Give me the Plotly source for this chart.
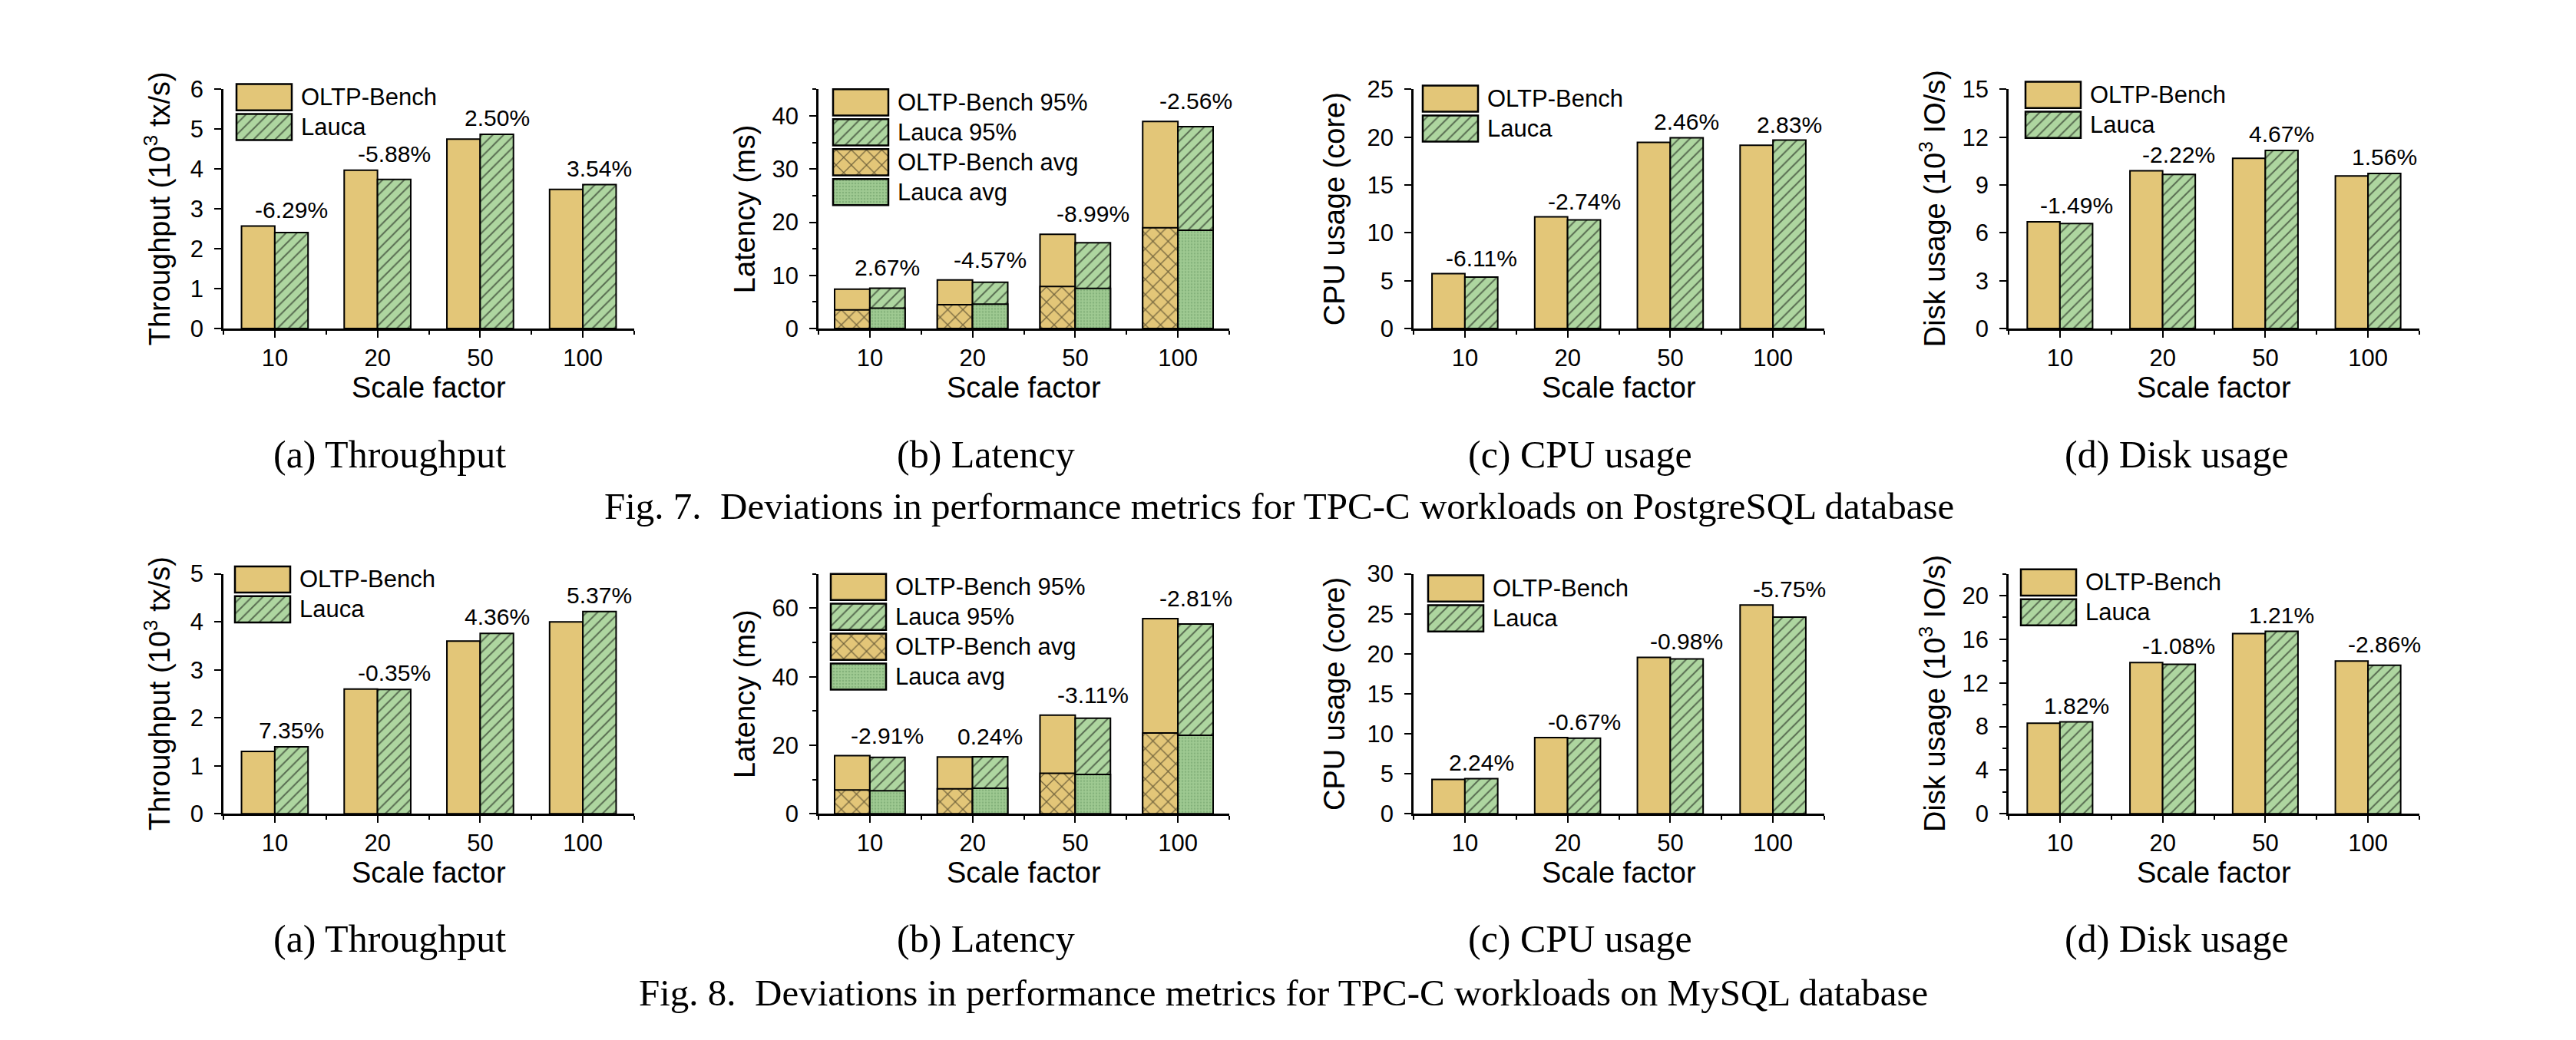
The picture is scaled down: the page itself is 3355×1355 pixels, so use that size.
import copy
import plotly.graph_objects as go

W, H = 3355, 1355

# ---------------- data ----------------
categories = ["10", "20", "50", "100"]

# Fig. 7  PostgreSQL
pg_tp_oltp = [2.57, 3.97, 4.75, 3.49]
pg_tp_lauca = [2.41, 3.74, 4.87, 3.61]
pg_tp_dev = ["-6.29%", "-5.88%", "2.50%", "3.54%"]

pg_lat95_oltp = [7.40, 9.13, 17.75, 38.97]
pg_lat95_lauca = [7.60, 8.71, 16.15, 37.97]
pg_latavg_oltp = [3.50, 4.50, 7.92, 18.97]
pg_latavg_lauca = [3.84, 4.60, 7.54, 18.50]
pg_lat_dev = ["2.67%", "-4.57%", "-8.99%", "-2.56%"]

pg_cpu_oltp = [5.74, 11.67, 19.46, 19.15]
pg_cpu_lauca = [5.39, 11.35, 19.94, 19.69]
pg_cpu_dev = ["-6.11%", "-2.74%", "2.46%", "2.83%"]

pg_disk_oltp = [6.69, 9.89, 10.67, 9.57]
pg_disk_lauca = [6.59, 9.67, 11.17, 9.72]
pg_disk_dev = ["-1.49%", "-2.22%", "4.67%", "1.56%"]

# Fig. 8  MySQL
my_tp_oltp = [1.30, 2.60, 3.60, 4.00]
my_tp_lauca = [1.395, 2.59, 3.757, 4.215]
my_tp_dev = ["7.35%", "-0.35%", "4.36%", "5.37%"]

my_lat95_oltp = [16.95, 16.60, 28.80, 56.95]
my_lat95_lauca = [16.46, 16.64, 27.90, 55.35]
my_latavg_oltp = [6.98, 7.27, 11.85, 23.60]
my_latavg_lauca = [6.76, 7.49, 11.50, 22.90]
my_lat_dev = ["-2.91%", "0.24%", "-3.11%", "-2.81%"]

my_cpu_oltp = [4.30, 9.53, 19.56, 26.10]
my_cpu_lauca = [4.40, 9.47, 19.37, 24.60]
my_cpu_dev = ["2.24%", "-0.67%", "-0.98%", "-5.75%"]

my_disk_oltp = [8.30, 13.87, 16.53, 14.01]
my_disk_lauca = [8.43, 13.71, 16.73, 13.62]
my_disk_dev = ["1.82%", "-1.08%", "1.21%", "-2.86%"]

sub_captions = ["(a) Throughput", "(b) Latency", "(c) CPU usage", "(d) Disk usage"]
fig_captions = [
    "Fig. 7.\u00a0 Deviations in performance metrics for TPC-C workloads on PostgreSQL database",
    "Fig. 8.\u00a0 Deviations in performance metrics for TPC-C workloads on MySQL database",
]

# ---------------- styles ----------------
SANS = "Liberation Sans, Arial, sans-serif"
SERIF = "Liberation Serif, Times New Roman, serif"
OLTP_COLOR = "#E3C678"
LAUCA_COLOR = "#AED6A0"
LAUCA_AVG_COLOR = "#9FCA92"
EDGE = dict(color="black", width=2)

STYLES = {
    "oltp": dict(color=OLTP_COLOR, line=EDGE),
    "lauca": dict(color=LAUCA_COLOR, line=EDGE,
                  pattern=dict(shape="/", size=10, solidity=0.2,
                               fgcolor="black", bgcolor=LAUCA_COLOR)),
    "oltp_avg": dict(color=OLTP_COLOR, line=EDGE,
                     pattern=dict(shape="x", size=14, solidity=0.17,
                                  fgcolor="black", bgcolor=OLTP_COLOR)),
    "lauca_avg": dict(color=LAUCA_AVG_COLOR, line=EDGE,
                      pattern=dict(shape=".", size=4, solidity=0.35,
                                   fgcolor="#6A9963", bgcolor=LAUCA_AVG_COLOR)),
}

# layout geometry (pixels)
COL_LEFT = [291, 1066, 1841, 2616]
PLOT_W = 535
ROW_TOP = [102, 750]
ROW_BOT = [422, 1071]
YTITLE_OFF = [86, 96, 103, 99]
SUBCAP_X = [507, 1284, 2058, 2835]
SUBCAP_Y = [590, 1238]
FIGCAP = [(1666, 660), (1671, 1310)]
LEGEND_POS = [[(308, 95), (1085, 102), (1853, 97), (2638, 92)],
              [(306, 740), (1082, 750), (1860, 752), (2632, 744)]]
BOX_W, BOX_H, BOX_STEP = 72, 35, 40

two = [("oltp", "OLTP-Bench"), ("lauca", "Lauca")]
four = [("oltp", "OLTP-Bench 95%"), ("lauca", "Lauca 95%"),
        ("oltp_avg", "OLTP-Bench avg"), ("lauca_avg", "Lauca avg")]

def simple(o, l, dev, ymax, dtick, minor, title, bw, shift):
    return dict(series=[("oltp", o, -1), ("lauca", l, 0)], top=[o, l], dev=dev,
                ymax=ymax, dtick=dtick, minor=minor, title=title, bw=bw,
                legend=two, shift=shift)

def latency(o95, l95, oavg, lavg, dev, ymax, dtick, minor, bw, shift):
    return dict(series=[("oltp", o95, -1), ("oltp_avg", oavg, -1),
                        ("lauca", l95, 0), ("lauca_avg", lavg, 0)],
                top=[o95, l95], dev=dev, ymax=ymax, dtick=dtick, minor=minor,
                title="Latency (ms)", bw=bw, legend=four, shift=shift)

panels = [
    [simple(pg_tp_oltp, pg_tp_lauca, pg_tp_dev, 6, 1, None, "Throughput (10<sup>3</sup> tx/s)", 0.324, 3),
     latency(pg_lat95_oltp, pg_lat95_lauca, pg_latavg_oltp, pg_latavg_lauca, pg_lat_dev, 45, 10, 5, 0.343, 8),
     simple(pg_cpu_oltp, pg_cpu_lauca, pg_cpu_dev, 25, 5, None, "CPU usage (core)", 0.32, 2),
     simple(pg_disk_oltp, pg_disk_lauca, pg_disk_dev, 15, 3, None, "Disk usage (10<sup>3</sup> IO/s)", 0.318, 3)],
    [simple(my_tp_oltp, my_tp_lauca, my_tp_dev, 5, 1, None, "Throughput (10<sup>3</sup> tx/s)", 0.324, 3),
     latency(my_lat95_oltp, my_lat95_lauca, my_latavg_oltp, my_latavg_lauca, my_lat_dev, 70, 20, 10, 0.343, 8),
     simple(my_cpu_oltp, my_cpu_lauca, my_cpu_dev, 30, 5, None, "CPU usage (core)", 0.32, 2),
     simple(my_disk_oltp, my_disk_lauca, my_disk_dev, 22, 4, 2, "Disk usage (10<sup>3</sup> IO/s)", 0.318, 3)],
]

def px(p):
    return p / W

def py(p):
    return 1 - p / H

fig = go.Figure()
annotations = []
layout_axes = {}
xs = list(range(len(categories)))

idx = 0
for r in range(2):
    for c in range(4):
        idx += 1
        p = panels[r][c]
        xn = "x" if idx == 1 else f"x{idx}"
        yn = "y" if idx == 1 else f"y{idx}"
        xk = "xaxis" if idx == 1 else f"xaxis{idx}"
        yk = "yaxis" if idx == 1 else f"yaxis{idx}"
        bw = p["bw"]
        for style, vals, side in p["series"]:
            fig.add_trace(go.Bar(
                x=xs, y=vals, width=[bw] * len(xs), offset=side * bw,
                marker=copy.deepcopy(STYLES[style]), xaxis=xn, yaxis=yn,
                showlegend=False, hoverinfo="skip"))
        # deviation labels
        for k, txt in enumerate(p["dev"]):
            top = max(s[k] for s in p["top"])
            annotations.append(dict(
                x=xs[k] + bw / 2, y=top, xref=xn, yref=yn, text=txt,
                showarrow=False, yanchor="bottom", xanchor="center",
                yshift=p["shift"], font=dict(family=SANS, size=30, color="black")))
        x0, x1 = COL_LEFT[c], COL_LEFT[c] + PLOT_W
        y0, y1 = ROW_TOP[r], ROW_BOT[r]
        layout_axes[xk] = dict(
            domain=[px(x0), px(x1)], range=[-0.5, len(xs) - 0.5], anchor=yn,
            tickmode="array", tickvals=xs, ticktext=categories,
            ticks="outside", ticklen=9, tickwidth=2, tickcolor="black",
            minor=dict(tick0=-0.5, dtick=1, ticks="outside", ticklen=5,
                       tickwidth=2, tickcolor="black"),
            showline=True, linewidth=2.5, linecolor="black",
            showgrid=False, zeroline=False, ticklabelstandoff=0,
            tickfont=dict(family=SANS, size=31, color="black"), fixedrange=True)
        yax = dict(
            domain=[py(y1), py(y0)], range=[0, p["ymax"]], anchor=xn,
            tickmode="linear", tick0=0, dtick=p["dtick"],
            ticks="outside", ticklen=9, tickwidth=2, tickcolor="black",
            showline=True, linewidth=2.5, linecolor="black",
            showgrid=False, zeroline=False, ticklabelstandoff=8,
            tickfont=dict(family=SANS, size=31, color="black"), fixedrange=True)
        if p["minor"]:
            yax["minor"] = dict(tick0=0, dtick=p["minor"], ticks="outside",
                                ticklen=5, tickwidth=2, tickcolor="black")
        layout_axes[yk] = yax
        # axis titles
        annotations.append(dict(
            x=px(x0 - YTITLE_OFF[c]), y=py((y0 + y1) / 2), xref="paper", yref="paper",
            text=p["title"], textangle=-90, showarrow=False,
            xanchor="center", yanchor="middle",
            font=dict(family=SANS, size=38, color="black")))
        annotations.append(dict(
            x=px((x0 + x1) / 2), y=py(y1 + 79), xref="paper", yref="paper",
            text="Scale factor", showarrow=False, xanchor="center", yanchor="middle",
            font=dict(family=SANS, size=38, color="black")))
        # legend swatches (drawn on a pixel overlay axis)
        lx, ly = LEGEND_POS[r][c]
        for j, (style, label) in enumerate(p["legend"]):
            top_px = ly + j * BOX_STEP
            fig.add_trace(go.Bar(
                x=[lx + BOX_W / 2], y=[BOX_H], base=[top_px], width=[BOX_W],
                marker=copy.deepcopy(STYLES[style]) | dict(line=dict(color="black", width=2.5)),
                xaxis="x9", yaxis="y9", showlegend=False, hoverinfo="skip"))
            annotations.append(dict(
                x=px(lx + BOX_W + 10), y=py(top_px + BOX_H / 2), xref="paper", yref="paper",
                text=label, showarrow=False, xanchor="left", yanchor="middle",
                font=dict(family=SANS, size=31, color="black")))
        # sub captions
        annotations.append(dict(
            x=px(SUBCAP_X[c]), y=py(SUBCAP_Y[r]), xref="paper", yref="paper",
            text=sub_captions[c], showarrow=False, xanchor="center", yanchor="middle",
            font=dict(family=SERIF, size=50, color="black")))
    annotations.append(dict(
        x=px(FIGCAP[r][0]), y=py(FIGCAP[r][1]), xref="paper", yref="paper",
        text=fig_captions[r], showarrow=False, xanchor="center", yanchor="middle",
        font=dict(family=SERIF, size=49, color="black")))

layout_axes["xaxis9"] = dict(domain=[0, 1], range=[0, W], anchor="y9", visible=False, fixedrange=True)
layout_axes["yaxis9"] = dict(domain=[0, 1], range=[H, 0], anchor="x9", visible=False, fixedrange=True)

fig.update_layout(
    width=W, height=H, autosize=False,
    margin=dict(l=0, r=0, t=0, b=0, pad=0),
    paper_bgcolor="white", plot_bgcolor="rgba(0,0,0,0)",
    barmode="overlay", showlegend=False,
    annotations=annotations, **layout_axes)

fig.write_html("out.html", config={"displayModeBar": False},
               post_script="document.body.style.margin='0';document.body.style.overflow='hidden';")
